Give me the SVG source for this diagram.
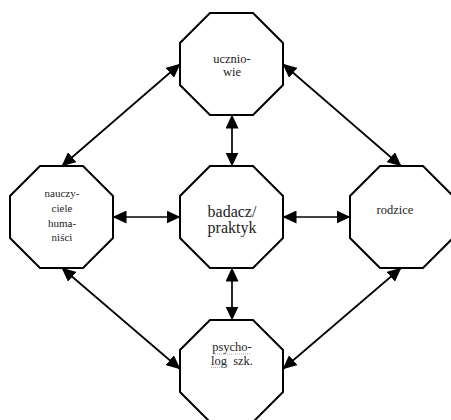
<svg xmlns="http://www.w3.org/2000/svg" width="451" height="420" viewBox="0 0 451 420">
<style>
.oct{fill:#fff;stroke:#000;stroke-width:2;stroke-linejoin:miter}
.con{stroke:#000;stroke-width:1.7;fill:none;marker-start:url(#ah);marker-end:url(#ah)}
.t{fill:#222;text-anchor:middle}
.s{font-size:12.5px}
.xs{font-size:11px}
.l{font-size:16px}
.sq{stroke:#aaa;stroke-width:1;stroke-dasharray:1 1;fill:none}
</style>
<defs>
<marker id="ah" markerUnits="userSpaceOnUse" markerWidth="14" markerHeight="13" viewBox="0 0 14 13" refX="13.5" refY="6.5" orient="auto-start-reverse">
<path d="M0,0 L14,6.5 L0,13 Z" fill="#000"/>
</marker>
</defs>
<rect width="451" height="420" fill="#fff"/>
<g id="connectors">
<line class="con" x1="62" y1="166" x2="180" y2="64"/>
<line class="con" x1="283" y1="64" x2="401" y2="166"/>
<line class="con" x1="62" y1="268" x2="180" y2="369"/>
<line class="con" x1="401" y1="268" x2="283" y2="369"/>
<line class="con" x1="232" y1="115" x2="232" y2="166"/>
<line class="con" x1="232" y1="268" x2="232" y2="320"/>
<line class="con" x1="113" y1="217" x2="180" y2="217"/>
<line class="con" x1="283" y1="217" x2="350" y2="217"/>
</g>
<g font-family="Liberation Serif, Times New Roman, serif">
<g id="uczniowie">
<polygon class="oct" points="210,13 253,13 283,43 283,85 253,115 210,115 180,85 180,43"/>
<text class="t s" x="232" y="63">ucznio-</text>
<text class="t s" x="232" y="75.5">wie</text>
</g>
<g id="nauczyciele">
<polygon class="oct" points="40,166 83,166 113,196 113,238 83,268 40,268 10,238 10,196"/>
<text class="t xs" x="62" y="197">nauczy-</text>
<text class="t xs" x="62" y="212">ciele</text>
<text class="t xs" x="62" y="226.5">huma-</text>
<text class="t xs" x="62" y="241">niści</text>
</g>
<g id="badacz">
<polygon class="oct" points="210,166 253,166 283,196 283,238 253,268 210,268 180,238 180,196"/>
<text class="t l" x="232" y="216.5">badacz/</text>
<text class="t l" x="232" y="232.5">praktyk</text>
</g>
<g id="rodzice">
<polygon class="oct" points="380,166 423,166 453,196 453,238 423,268 380,268 350,238 350,196"/>
<text class="t s" x="395" y="214">rodzice</text>
</g>
<g id="psycholog">
<polygon class="oct" points="210,320 253,320 283,350 283,392 253,422 210,422 180,392 180,350"/>
<text class="t s" x="232" y="351">psycho-</text>
<text class="t s" x="232" y="364.5" word-spacing="3">log szk.</text>
<path class="sq" d="M213,354 H251 M211,367.5 H226"/>
</g>
</g>
</svg>
